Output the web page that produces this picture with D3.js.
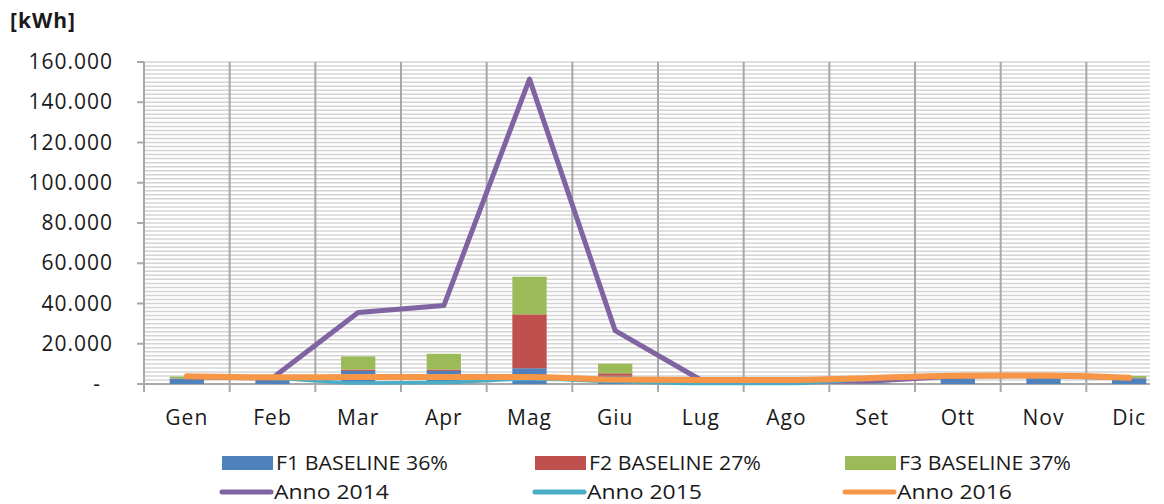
<!DOCTYPE html>
<html>
<head>
<meta charset="utf-8">
<script src="https://cdn.jsdelivr.net/npm/d3@7"></script>
<style>
  body { margin: 0; background: #fff; }
  svg { display: block; font-family: "Open Sans", "Liberation Sans", sans-serif; }
</style>
</head>
<body>
<svg width="1164" height="504"></svg>
<script>
// Months (Italian abbreviations)
const months = ["Gen", "Feb", "Mar", "Apr", "Mag", "Giu", "Lug", "Ago", "Set", "Ott", "Nov", "Dic"];

// Stacked bar series (kWh)
const f1 = [2600, 2000, 6500, 6500, 7800, 4100, 200, 200, 300, 2800, 2800, 2800];
const f2 = [200, 100, 700, 700, 26800, 1200, 0, 0, 0, 100, 100, 200];
const f3 = [900, 300, 6500, 7800, 18700, 4800, 0, 0, 100, 200, 200, 1000];

// Line series (kWh)
const anno2014 = [3500, 3000, 35500, 39000, 151500, 26500, 2000, 1300, 1500, 4000, 4100, 3100];
const anno2015 = [3500, 2900, 500, 800, 2500, 1200, 200, 200, 2500, 4000, 4100, 3100];
const anno2016 = [3800, 3300, 3500, 3500, 3500, 2200, 2000, 2000, 3000, 4100, 4200, 3100];

const yTicks = [0, 20000, 40000, 60000, 80000, 100000, 120000, 140000, 160000];

const svg = d3.select("svg");

const plotLeft = 144, plotTop = 62, plotBottom = 384, plotRight = 1172;

const x = d3.scaleBand().domain(months).range([plotLeft, plotRight]);
const y = d3.scaleLinear().domain([0, 160000]).range([plotBottom, plotTop]);

// Clip the plot area at the picture edge
svg.append("defs").append("clipPath").attr("id", "plot")
    .append("rect").attr("x", plotLeft).attr("y", 0).attr("width", 1164 - plotLeft).attr("height", 504);

const grid = svg.append("g").attr("clip-path", "url(#plot)");

// Minor horizontal gridlines every 2.000
grid.selectAll(".minor")
    .data(d3.range(2000, 160001, 2000))
    .join("line")
    .attr("x1", plotLeft).attr("x2", 1150)
    .attr("y1", d => y(d)).attr("y2", d => y(d))
    .attr("stroke", "#d4d4d4")
    .attr("stroke-width", 1.5);

// Vertical gridlines at category boundaries
grid.selectAll(".vgrid")
    .data(months.slice(1))
    .join("line")
    .attr("x1", d => x(d)).attr("x2", d => x(d))
    .attr("y1", plotTop).attr("y2", plotBottom + 8)
    .attr("stroke", "#a8a8a8")
    .attr("stroke-width", 2);

// Y axis line and ticks
svg.append("line")
    .attr("x1", plotLeft).attr("x2", plotLeft).attr("y1", plotTop).attr("y2", plotBottom + 8)
    .attr("stroke", "#a8a8a8").attr("stroke-width", 2);
svg.selectAll(".ytick")
    .data(yTicks)
    .join("line")
    .attr("x1", plotLeft - 7).attr("x2", plotLeft)
    .attr("y1", d => y(d)).attr("y2", d => y(d))
    .attr("stroke", "#a8a8a8").attr("stroke-width", 2);

// X axis baseline
svg.append("line")
    .attr("x1", plotLeft - 7).attr("x2", 1150).attr("y1", plotBottom).attr("y2", plotBottom)
    .attr("stroke", "#a8a8a8").attr("stroke-width", 2);

// Y labels
svg.selectAll(".ylab")
    .data(yTicks)
    .join("text")
    .attr("x", d => d === 0 ? 101 : 113)
    .attr("y", d => y(d) + 7)
    .attr("text-anchor", "end")
    .attr("font-size", 21)
    .attr("letter-spacing", 1)
    .attr("fill", "#1a1a1a")
    .text(d => d === 0 ? "-" : d3.format(",")(d).replace(/,/g, "."));

// X labels
svg.selectAll(".xlab")
    .data(months)
    .join("text")
    .attr("x", d => x(d) + x.bandwidth() / 2)
    .attr("y", 425)
    .attr("text-anchor", "middle")
    .attr("font-size", 21)
    .attr("letter-spacing", 1)
    .attr("fill", "#1a1a1a")
    .text(d => d);

// Unit label
svg.append("text")
    .attr("x", 10).attr("y", 28)
    .attr("font-size", 21).attr("font-weight", "bold")
    .attr("letter-spacing", 1)
    .attr("fill", "#1a1a1a")
    .text("[kWh]");

// Stacked bars
const rows = months.map((m, i) => ({ month: m, f1: f1[i], f2: f2[i], f3: f3[i] }));
const stack = d3.stack().keys(["f1", "f2", "f3"])(rows);
const barColors = { f1: "#4f81bd", f2: "#c0504d", f3: "#9bbb59" };
const barW = x.bandwidth() * 0.4;

const plot = svg.append("g").attr("clip-path", "url(#plot)");

plot.selectAll(".series")
    .data(stack)
    .join("g")
    .attr("fill", d => barColors[d.key])
    .selectAll("rect")
    .data(d => d)
    .join("rect")
    .attr("x", d => x(d.data.month) + (x.bandwidth() - barW) / 2)
    .attr("width", barW)
    .attr("y", d => y(d[1]))
    .attr("height", d => y(d[0]) - y(d[1]));

// Lines
const cx = m => x(m) + x.bandwidth() / 2;
const lineSeries = [
    { values: anno2014, color: "#8064a2", width: 5, curve: d3.curveLinear },
    { values: anno2015, color: "#4bacc6", width: 3.5, curve: d3.curveMonotoneX },
    { values: anno2016, color: "#f79646", width: 6, curve: d3.curveMonotoneX }
];
lineSeries.forEach(s => {
    const line = d3.line()
        .x((d, i) => cx(months[i]))
        .y(d => y(d))
        .curve(s.curve);
    plot.append("path")
        .datum(s.values)
        .attr("d", line)
        .attr("fill", "none")
        .attr("stroke", s.color)
        .attr("stroke-width", s.width)
        .attr("stroke-linejoin", "round")
        .attr("stroke-linecap", "round");
});

// Legend
const legendItems = [
    { label: "F1 BASELINE 36%", color: "#4f81bd", type: "rect", x: 222, y: 463 },
    { label: "F2 BASELINE 27%", color: "#c0504d", type: "rect", x: 535, y: 463 },
    { label: "F3 BASELINE 37%", color: "#9bbb59", type: "rect", x: 845, y: 463 },
    { label: "Anno 2014", color: "#8064a2", type: "line", x: 220, y: 492 },
    { label: "Anno 2015", color: "#4bacc6", type: "line", x: 533, y: 492 },
    { label: "Anno 2016", color: "#f79646", type: "line", x: 843, y: 492 }
];
const lg = svg.selectAll(".legend")
    .data(legendItems)
    .join("g")
    .attr("transform", d => `translate(${d.x},${d.y})`);
lg.filter(d => d.type === "rect").append("rect")
    .attr("x", 0).attr("y", -7).attr("width", 51).attr("height", 14)
    .attr("fill", d => d.color);
lg.filter(d => d.type === "line").append("line")
    .attr("x1", 2).attr("x2", 51).attr("y1", 0).attr("y2", 0)
    .attr("stroke", d => d.color).attr("stroke-width", 5).attr("stroke-linecap", "round");
lg.append("text")
    .attr("x", 54).attr("y", 7)
    .attr("font-size", 20)
    .attr("fill", "#1a1a1a")
    .attr("textLength", d => d.type === "rect" ? 172 : 115)
    .attr("lengthAdjust", "spacingAndGlyphs")
    .text(d => d.label);
</script>
</body>
</html>
